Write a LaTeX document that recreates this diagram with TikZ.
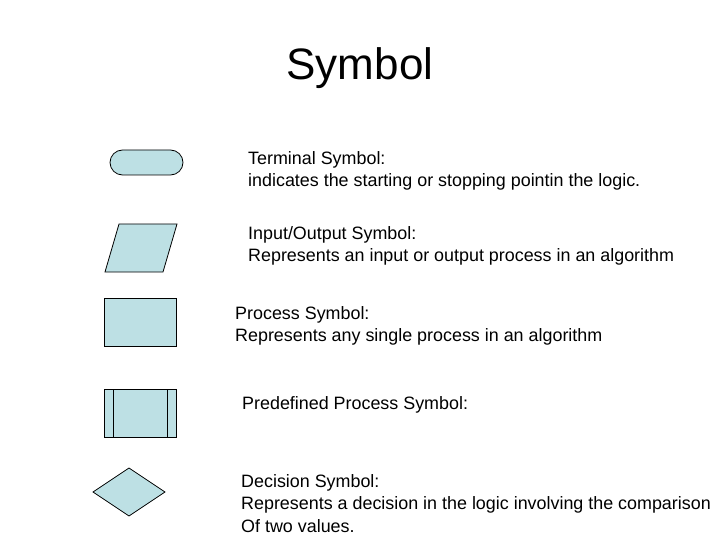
\documentclass[tikz,border=0pt]{standalone}
\usepackage{fontspec}
\setmainfont{Liberation Sans}
\begin{document}
\begin{tikzpicture}[x=1pt,y=-1pt,
  shp/.style={draw=black,fill={rgb,255:red,189;green,224;blue,228},line width=0.8pt},
  lbl/.style={anchor=north west,align=left,inner sep=0pt,font=\fontsize{17.9}{22.5}\selectfont}]
\useasboundingbox (0,0) rectangle (720,540);
\node[font=\fontsize{44}{52}\selectfont] (title) at (360,68) {Symbol};
\draw[shp,rounded corners=12.5pt] (110,150) rectangle (183,175);
\draw[shp] (119,224) -- (177,224) -- (163,272) -- (105,272) -- cycle;
\draw[shp] (104,298) rectangle (176,346);
\draw[shp] (104,389) rectangle (176,437);
\draw[line width=0.8pt] (113,389) -- (113,437) (167,389) -- (167,437);
\draw[shp] (129,468) -- (165,492) -- (129,516) -- (93,492) -- cycle;
\node[lbl] (l1) at (248,151) {Terminal Symbol:\\indicates the starting or stopping pointin the logic.};
\node[lbl] (l2) at (248,226) {Input/Output Symbol:\\Represents an input or output process in an algorithm};
\node[lbl] (l3) at (235,306) {Process Symbol:\\Represents any single process in an algorithm};
\node[lbl] (l4) at (242,396) {Predefined Process Symbol:};
\node[lbl] (l5) at (241,474) {Decision Symbol:\\Represents a decision in the logic involving the comparison\\Of two values.};
\end{tikzpicture}
\end{document}
